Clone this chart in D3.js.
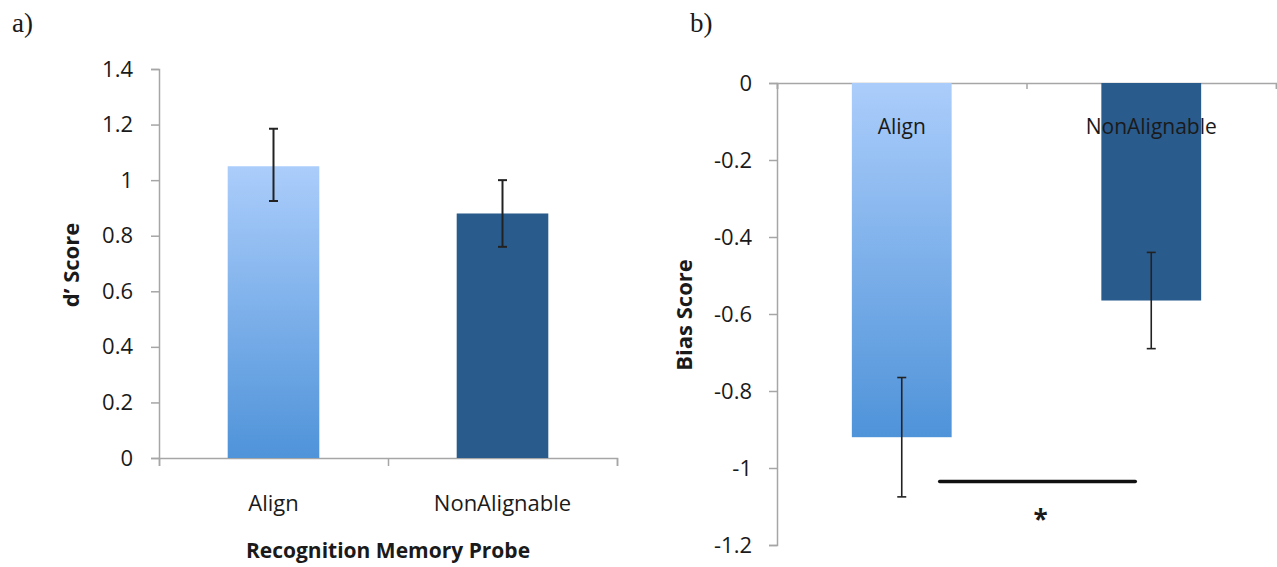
<!DOCTYPE html>
<html>
<head>
<meta charset="utf-8">
<script src="https://cdn.jsdelivr.net/npm/d3@7"></script>
<style>
  body { margin: 0; background: #fff; }
  text { font-family: "Open Sans", sans-serif; fill: #1a1a1a; }
</style>
</head>
<body>
<div id="my_dataviz"></div>
<script>
// data
var categories = ["Align", "NonAlignable"];

// panel a) d' score
var dValues = [1.05, 0.88];
var dErrLow = [0.925, 0.76];
var dErrHigh = [1.185, 1.0];
var dTicks = [0, 0.2, 0.4, 0.6, 0.8, 1, 1.2, 1.4];
var dTickLabels = ["0", "0.2", "0.4", "0.6", "0.8", "1", "1.2", "1.4"];

// panel b) bias score
var biasValues = [-0.92, -0.565];
var biasErrLow = [-1.075, -0.69];
var biasErrHigh = [-0.765, -0.44];
var biasTicks = [0, -0.2, -0.4, -0.6, -0.8, -1, -1.2];
var biasTickLabels = ["0", "-0.2", "-0.4", "-0.6", "-0.8", "-1", "-1.2"];
var sigLevel = -1.035;

var width = 1277, height = 567;
var axisColor = "#a6a6a6";

var svg = d3.select("#my_dataviz")
  .append("svg")
  .attr("width", width)
  .attr("height", height);

svg.append("rect").attr("width", width).attr("height", height).attr("fill", "#fff");

// gradient for the Align bars (light on top)
var defs = svg.append("defs");
var grad = defs.append("linearGradient")
  .attr("id", "alignGrad")
  .attr("x1", 0).attr("y1", 0).attr("x2", 0).attr("y2", 1);
grad.append("stop").attr("offset", "0%").attr("stop-color", "#abcdfb");
grad.append("stop").attr("offset", "100%").attr("stop-color", "#4f93d9");

var darkBlue = "#2a5b8d";
function barFill(d, i) { return i == 0 ? "url(#alignGrad)" : darkBlue; }

function styleAxis(g) {
  g.selectAll("path.domain").attr("stroke", axisColor).attr("stroke-width", 1.5);
  g.selectAll(".tick line").attr("stroke", axisColor).attr("stroke-width", 1.5);
  g.selectAll(".tick text").style("font-size", "22px").attr("fill", "#1a1a1a")
    .style("font-family", "'Open Sans', sans-serif");
}

// ---------- panel a ----------
var xa = d3.scaleBand().domain(categories).range([159, 617]).padding(0.6).paddingOuter(0.3);
var ya = d3.scaleLinear().domain([0, 1.4]).range([458, 69]);

svg.append("g")
  .attr("transform", "translate(159,0)")
  .call(d3.axisLeft(ya).tickValues(dTicks).tickSize(8).tickPadding(18)
        .tickFormat(function(d, i) { return dTickLabels[i]; }))
  .call(styleAxis);

svg.append("g")
  .attr("transform", "translate(0,458)")
  .call(d3.axisBottom(d3.scaleLinear().domain([0, 2]).range([159, 617]))
        .tickValues([0, 1, 2]).tickSize(8).tickFormat(""))
  .call(styleAxis);

svg.append("g").selectAll("rect")
  .data(dValues)
  .enter().append("rect")
  .attr("x", function(d, i) { return xa(categories[i]); })
  .attr("width", xa.bandwidth())
  .attr("y", function(d) { return ya(d); })
  .attr("height", function(d) { return ya(0) - ya(d); })
  .attr("fill", barFill);

function errorBars(g, xs, ys, lo, hi, sw) {
  var cx = function(i) { return xs(categories[i]) + xs.bandwidth() / 2; };
  g.selectAll("line.v").data(lo).enter().append("line")
    .attr("x1", function(d, i) { return cx(i); })
    .attr("x2", function(d, i) { return cx(i); })
    .attr("y1", function(d) { return ys(d); })
    .attr("y2", function(d, i) { return ys(hi[i]); })
    .attr("stroke", "#222").attr("stroke-width", sw);
  [lo, hi].forEach(function(arr) {
    g.selectAll(null).data(arr).enter().append("line")
      .attr("x1", function(d, i) { return cx(i) - 4.5; })
      .attr("x2", function(d, i) { return cx(i) + 4.5; })
      .attr("y1", function(d) { return ys(d); })
      .attr("y2", function(d) { return ys(d); })
      .attr("stroke", "#222").attr("stroke-width", sw);
  });
}

errorBars(svg.append("g"), xa, ya, dErrLow, dErrHigh, 2);

svg.append("g").selectAll("text")
  .data(categories)
  .enter().append("text")
  .attr("x", function(d) { return xa(d) + xa.bandwidth() / 2; })
  .attr("y", 511)
  .attr("text-anchor", "middle")
  .style("font-size", "22px")
  .text(function(d) { return d; });

svg.append("text")
  .attr("x", 388).attr("y", 558)
  .attr("text-anchor", "middle")
  .style("font-size", "21px").style("font-weight", "bold")
  .text("Recognition Memory Probe");

svg.append("text")
  .attr("transform", "translate(79,265) rotate(-90)")
  .attr("text-anchor", "middle")
  .style("font-size", "22px").style("font-weight", "bold")
  .text("d\u2019 Score");

svg.append("text")
  .attr("x", 12).attr("y", 32)
  .style("font-family", "'Liberation Serif', serif")
  .style("font-size", "27px")
  .text("a)");

// ---------- panel b ----------
var xb = d3.scaleBand().domain(categories).range([777, 1276]).padding(0.6).paddingOuter(0.3);
var yb = d3.scaleLinear().domain([-1.2, 0]).range([545, 83]);

svg.append("g")
  .attr("transform", "translate(777,0)")
  .call(d3.axisLeft(yb).tickValues(biasTicks).tickSize(8).tickPadding(17)
        .tickFormat(function(d, i) { return biasTickLabels[i]; }))
  .call(styleAxis);

svg.append("g")
  .attr("transform", "translate(0,83)")
  .call(d3.axisBottom(d3.scaleLinear().domain([0, 2]).range([777, 1276]))
        .tickValues([0, 1, 2]).tickSize(6).tickFormat(""))
  .call(styleAxis);

svg.append("g").selectAll("rect")
  .data(biasValues)
  .enter().append("rect")
  .attr("x", function(d, i) { return xb(categories[i]); })
  .attr("width", xb.bandwidth())
  .attr("y", yb(0))
  .attr("height", function(d) { return yb(d) - yb(0); })
  .attr("fill", barFill);

errorBars(svg.append("g"), xb, yb, biasErrLow, biasErrHigh, 1.6);

svg.append("g").selectAll("text")
  .data(categories)
  .enter().append("text")
  .attr("x", function(d) { return xb(d) + xb.bandwidth() / 2; })
  .attr("y", 134)
  .attr("text-anchor", "middle")
  .style("font-size", "21px")
  .text(function(d) { return d; });

// significance bar between the two groups
var sx1 = xb(categories[0]) + xb.bandwidth() * 0.88;
var sx2 = xb(categories[1]) + xb.bandwidth() * 0.34;
svg.append("line")
  .attr("x1", sx1).attr("x2", sx2)
  .attr("y1", yb(sigLevel)).attr("y2", yb(sigLevel))
  .attr("stroke", "#111").attr("stroke-width", 3.5)
  .attr("stroke-linecap", "round");

svg.append("text")
  .attr("x", (sx1 + sx2) / 2 + 3).attr("y", yb(sigLevel) + 48)
  .attr("text-anchor", "middle")
  .style("font-size", "26px").style("font-weight", "bold")
  .text("*");

svg.append("text")
  .attr("transform", "translate(692,315) rotate(-90)")
  .attr("text-anchor", "middle")
  .style("font-size", "22px").style("font-weight", "bold")
  .text("Bias Score");

svg.append("text")
  .attr("x", 690).attr("y", 32)
  .style("font-family", "'Liberation Serif', serif")
  .style("font-size", "27px")
  .text("b)");
</script>
</body>
</html>
